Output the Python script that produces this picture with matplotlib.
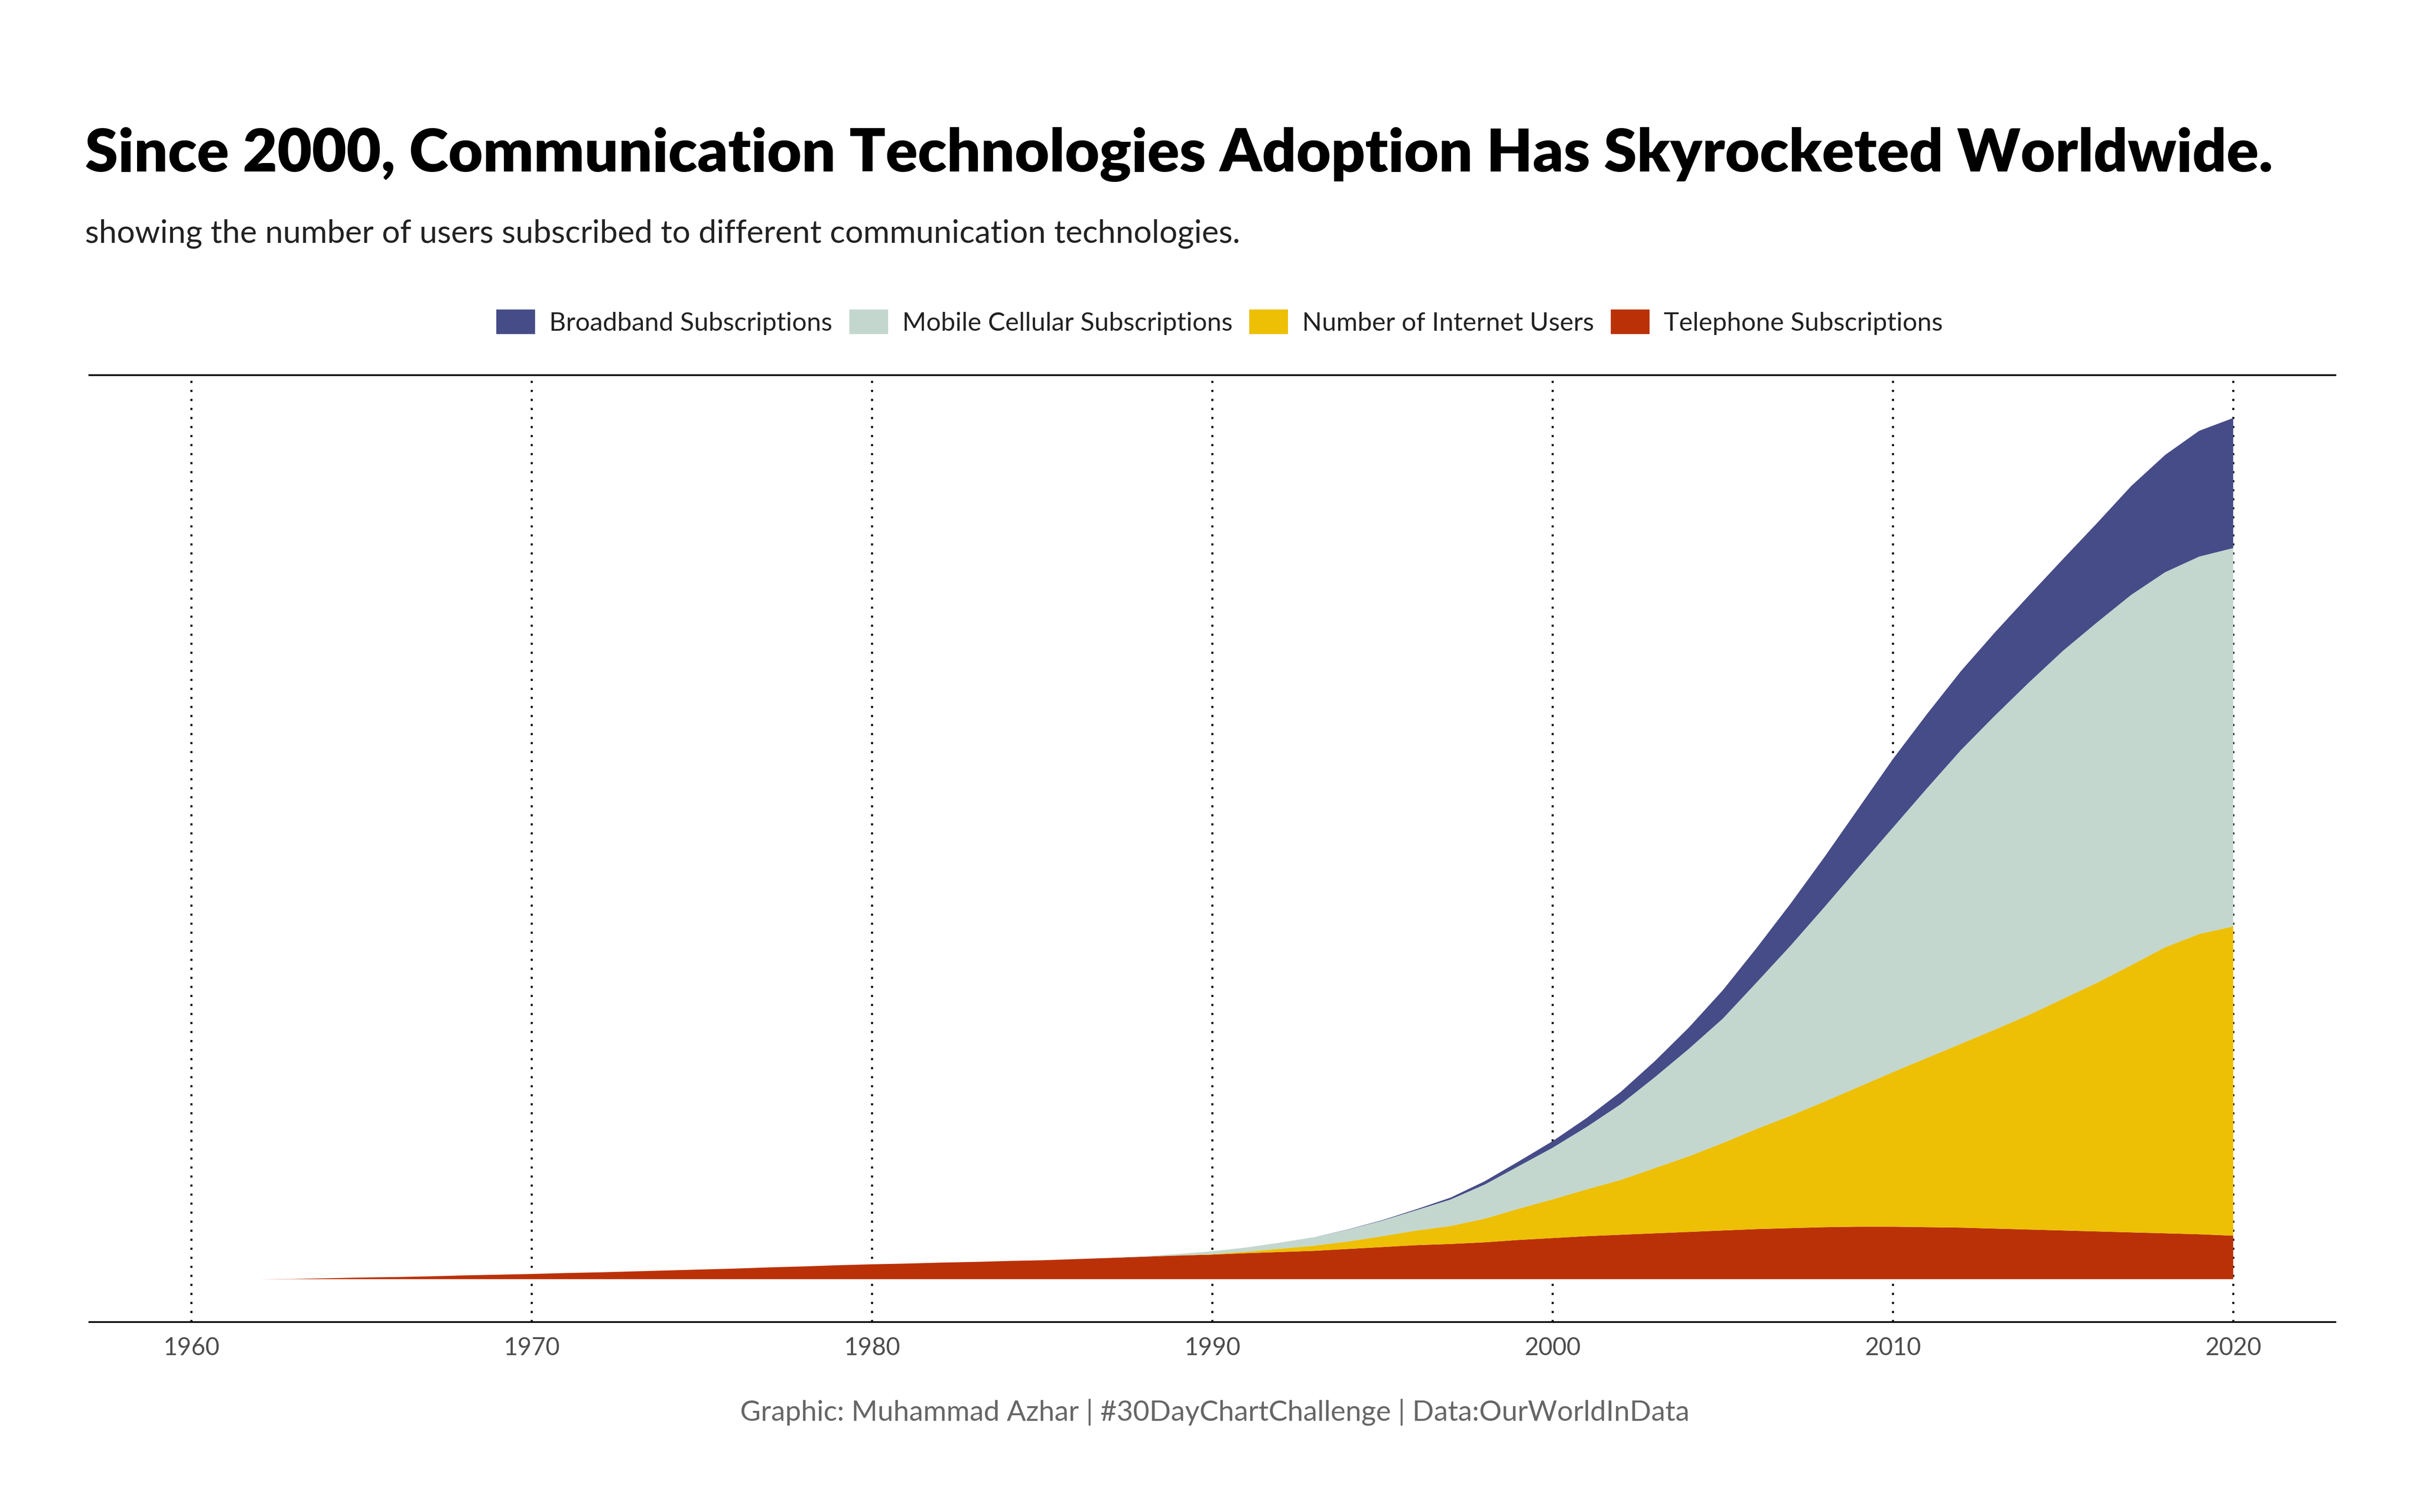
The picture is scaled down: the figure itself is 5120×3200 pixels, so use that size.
import matplotlib
matplotlib.use("Agg")
import matplotlib.pyplot as plt
from matplotlib.patches import Patch
import numpy as np

# ---------------- data (billions) ----------------
years = list(range(1960, 2021))

telephone = [0, 0, 0, 0.005, 0.02, 0.035, 0.045, 0.06, 0.08, 0.095,
             0.11, 0.13, 0.145, 0.165, 0.185, 0.205, 0.225, 0.25, 0.27, 0.295,
             0.315, 0.33, 0.35, 0.365, 0.385, 0.40, 0.425, 0.45, 0.475, 0.50,
             0.52, 0.55, 0.575, 0.60, 0.64, 0.68, 0.72, 0.745, 0.78, 0.83,
             0.87, 0.91, 0.94, 0.97, 1.00, 1.03, 1.06, 1.08, 1.10, 1.11,
             1.11, 1.10, 1.09, 1.07, 1.05, 1.03, 1.01, 0.99, 0.97, 0.95,
             0.92]

internet = [0] * 29 + [0.003,
            0.01, 0.03, 0.07, 0.11, 0.16, 0.23, 0.31, 0.38, 0.50, 0.66,
            0.82, 0.99, 1.16, 1.38, 1.60, 1.85, 2.12, 2.38, 2.66, 2.96,
            3.27, 3.58, 3.89, 4.21, 4.54, 4.90, 5.26, 5.65, 6.05, 6.35,
            6.54]

mobile = [0] * 27 + [0.002, 0.01, 0.03,
          0.06, 0.09, 0.13, 0.18, 0.25, 0.33, 0.43, 0.56, 0.72, 0.90,
          1.09, 1.32, 1.60, 1.92, 2.27, 2.63, 3.10, 3.60, 4.12, 4.65,
          5.17, 5.70, 6.21, 6.64, 7.03, 7.36, 7.62, 7.83, 7.93, 7.98,
          8.00]

broadband = [0] * 34 + [0.005, 0.01, 0.02, 0.04, 0.07, 0.10,
             0.14, 0.19, 0.26, 0.34, 0.45, 0.60, 0.73, 0.89, 1.06, 1.25,
             1.45, 1.57, 1.67, 1.76, 1.84, 1.94, 2.10, 2.30, 2.48, 2.66,
             2.75]

series_names = ["Broadband Subscriptions", "Mobile Cellular Subscriptions",
                "Number of Internet Users", "Telephone Subscriptions"]
decade_ticks = [1960, 1970, 1980, 1990, 2000, 2010, 2020]

colors = {
    "Broadband Subscriptions": "#464C88",
    "Mobile Cellular Subscriptions": "#C3D7CE",
    "Number of Internet Users": "#EDBF05",
    "Telephone Subscriptions": "#BB3107",
}

# ---------------- figure ----------------
FONT = ["Lato", "DejaVu Sans"]
plt.rcParams["font.family"] = FONT

fig = plt.figure(figsize=(16, 10), dpi=320)
fig.patch.set_facecolor("white")

ax = fig.add_axes([0.037, 0.1255, 0.928, 0.6265])

stack = [telephone, internet, mobile, broadband]
stack_names = ["Telephone Subscriptions", "Number of Internet Users",
               "Mobile Cellular Subscriptions", "Broadband Subscriptions"]
ax.stackplot(years, *stack, colors=[colors[n] for n in stack_names],
             linewidth=0, zorder=2)

total = np.sum(np.array(stack), axis=0)
ymax = float(total.max())
ax.set_ylim(-0.05 * ymax, ymax * 1.05)
ax.set_xlim(1957, 2023)

for t in decade_ticks:
    ax.axvline(t, color="black", lw=1.0, dashes=(1, 3.3), zorder=1,
               dash_capstyle="butt")

ax.set_xticks(decade_ticks)
ax.set_xticklabels([str(t) for t in decade_ticks])
ax.tick_params(axis="x", length=0, pad=7, labelsize=11.6, labelcolor="#4D4D4D")
ax.set_yticks([])
for s in ["left", "right"]:
    ax.spines[s].set_visible(False)
for s in ["top", "bottom"]:
    ax.spines[s].set_color("black")
    ax.spines[s].set_linewidth(0.8)
ax.set_facecolor("white")

# ---------------- titles ----------------
title = fig.text(0.0352, 0.8867,
                 "Since 2000, Communication Technologies Adoption Has Skyrocketed Worldwide.",
                 fontsize=27, fontweight="heavy", color="black", ha="left", va="baseline")
sub = fig.text(0.0352, 0.8395,
               "showing the number of users subscribed to different communication technologies.",
               fontsize=14, color="#222222", ha="left", va="baseline")
cap = fig.text(0.502, 0.0602,
               "Graphic: Muhammad Azhar | #30DayChartChallenge | Data:OurWorldInData",
               fontsize=13, color="#666666", ha="center", va="baseline")

# fit text widths to reference
renderer = fig.canvas.get_renderer()
for txt, target in [(title, 4627), (sub, 2442), (cap, 2005)]:
    w = txt.get_window_extent(renderer).width
    txt.set_fontsize(txt.get_fontsize() * target / w)

# ---------------- legend ----------------
handles = [Patch(facecolor=colors[n], edgecolor="none") for n in series_names]
leg = fig.legend(handles, series_names, loc="center", bbox_to_anchor=(0.504, 0.787),
                 ncol=4, frameon=False, fontsize=12.3, handlelength=1.5,
                 handleheight=1.1, handletextpad=0.55, columnspacing=0.65,
                 labelcolor="#222222")

fig.savefig("out.png", dpi=320, facecolor="white")
